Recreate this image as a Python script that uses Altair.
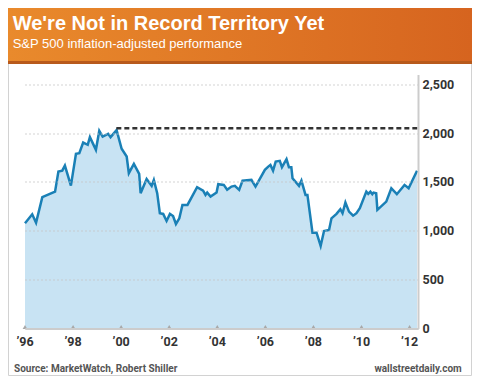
import altair as alt
import pandas as pd

# ---- data ----
years = [1996.00, 1996.30, 1996.46, 1996.72, 1997.25, 1997.39, 1997.55, 1997.66, 1997.91,
         1998.12, 1998.26, 1998.42, 1998.61, 1998.70, 1998.95, 1999.09, 1999.23, 1999.46,
         1999.56, 1999.81, 2000.02, 2000.23, 2000.32, 2000.53, 2000.75, 2000.81, 2001.06,
         2001.27, 2001.36, 2001.50, 2001.61, 2001.75, 2001.89, 2002.03, 2002.16, 2002.28,
         2002.42, 2002.55, 2002.76, 2003.16, 2003.41, 2003.51, 2003.58, 2003.72, 2003.97,
         2004.04, 2004.27, 2004.41, 2004.59, 2004.73, 2004.91, 2005.05, 2005.42, 2005.59,
         2005.98, 2006.12, 2006.21, 2006.32, 2006.43, 2006.60, 2006.69, 2006.88, 2006.98,
         2007.08, 2007.13, 2007.40, 2007.50, 2007.67, 2007.75, 2007.96, 2008.13, 2008.30,
         2008.44, 2008.65, 2008.75, 2008.96, 2009.12, 2009.21, 2009.33, 2009.48, 2009.65,
         2009.79, 2009.93, 2010.20, 2010.28, 2010.37, 2010.45, 2010.50, 2010.61, 2010.66,
         2011.03, 2011.24, 2011.47, 2011.79, 2011.96, 2012.31]
values = [1077, 1169, 1083, 1344, 1401, 1606, 1616, 1668, 1463,
          1788, 1795, 1903, 1880, 1959, 1829, 2023, 1965, 1993,
          1959, 2030, 1840, 1760, 1590, 1685, 1583, 1385, 1531,
          1460, 1521, 1385, 1180, 1173, 1101, 1173, 1152, 1070,
          1128, 1265, 1265, 1446, 1411, 1367, 1391, 1350, 1391,
          1477, 1470, 1420, 1453, 1460, 1419, 1514, 1521, 1453,
          1624, 1657, 1675, 1616, 1709, 1716, 1651, 1733, 1651,
          1651, 1538, 1460, 1514, 1367, 1367, 981, 981, 845,
          998, 1009, 1128, 1173, 1221, 1180, 1289, 1196, 1155,
          1180, 1231, 1401, 1378, 1401, 1375, 1391, 1385, 1214,
          1299, 1436, 1375, 1470, 1436, 1615]

tick_years = [1996, 1998, 2000, 2002, 2004, 2006, 2008, 2010, 2012]
tick_labels = ["\u201996", "\u201998", "\u201900", "\u201902", "\u201904",
               "\u201906", "\u201908", "\u201910", "\u201912"]
y_ticks = [0, 500, 1000, 1500, 2000, 2500]

record_value = 2050
record_start = 1999.8
record_end = 2012.35

title_text = "We're Not in Record Territory Yet"
subtitle_text = "S&P 500 inflation-adjusted performance"
source_text = "Source: MarketWatch, Robert Shiller"
brand_text = "wallstreetdaily.com"

# ---- tables ----
df = pd.DataFrame({"year": years, "value": values})
ticks_df = pd.DataFrame({"year": tick_years, "value": [0] * len(tick_years), "label": tick_labels})
rec_df = pd.DataFrame({"year": [record_start], "end": [record_end], "value": [record_value]})
one = pd.DataFrame({"k": [0]})

W, H = 393, 254
LBL = "Roboto, Liberation Sans, sans-serif"
SANS = "Liberation Sans, Arial, Helvetica, sans-serif"

x_scale = alt.Scale(domain=[1996, 2012.35], nice=False, zero=False)
y_scale = alt.Scale(domain=[0, 2600], nice=False)

x_axis = alt.Axis(values=tick_years, grid=False, ticks=False, labels=False,
                  domainColor="#cccccc", domainWidth=2, zindex=1)
y_axis = alt.Axis(orient="right", values=y_ticks, format=",.0f",
                  grid=True, gridDash=[1, 3], gridColor="#c4c4c4", gridWidth=1.5,
                  ticks=False, domainColor="#cccccc", domainWidth=2,
                  labelFont=LBL, labelFontWeight="bold", labelFontSize=12.5,
                  labelColor="#333333", labelPadding=4, zindex=1)

X = alt.X("year:Q", scale=x_scale, title=None, axis=x_axis)
Y = alt.Y("value:Q", scale=y_scale, title=None, axis=y_axis)

# ---- decoration ----
panel = alt.Chart(one).mark_rect(fill="transparent", stroke="#d2d2d2", strokeWidth=1).encode(
    x=alt.value(-16.5), x2=alt.value(446.5), y=alt.value(-11), y2=alt.value(301)
)
header = alt.Chart(one).mark_rect(
    color=alt.Gradient(
        gradient="linear",
        stops=[alt.GradientStop(color="#e98a2c", offset=0),
               alt.GradientStop(color="#d6641f", offset=1)],
        x1=0, x2=1, y1=0, y2=0,
    )
).encode(x=alt.value(-17), x2=alt.value(447), y=alt.value(-66.5), y2=alt.value(-13))
header_edge = alt.Chart(one).mark_rect(color="#b85a1c").encode(
    x=alt.value(-17), x2=alt.value(447), y=alt.value(-13.5), y2=alt.value(-10.5)
)
title = alt.Chart(one).mark_text(
    text=title_text, font=SANS, fontWeight="bold", fontSize=20, color="white",
    align="left", baseline="alphabetic"
).encode(x=alt.value(-12.3), y=alt.value(-44.5))
subtitle = alt.Chart(one).mark_text(
    text=subtitle_text, font=SANS, fontSize=13, color="white",
    align="left", baseline="alphabetic"
).encode(x=alt.value(-12.3), y=alt.value(-27))
source = alt.Chart(one).mark_text(
    text=source_text, font=LBL, fontWeight="bold", fontSize=10, color="#555555",
    align="left", baseline="alphabetic"
).encode(x=alt.value(-11), y=alt.value(297.5))
brand = alt.Chart(one).mark_text(
    text=brand_text, font=LBL, fontWeight="bold", fontSize=10, color="#555555",
    align="right", baseline="alphabetic"
).encode(x=alt.value(436.7), y=alt.value(297.5))

# ---- data marks ----
area = alt.Chart(df).mark_area(color="#c8e3f3").encode(x=X, y=Y)
line = alt.Chart(df).mark_line(color="#1a80b6", strokeWidth=2.5, strokeJoin="miter").encode(x=X, y=Y)
record = alt.Chart(rec_df).mark_rule(color="#333333", strokeWidth=2.6, strokeDash=[5, 3]).encode(
    x=X, x2="end:Q", y=Y
)
tick_marks = alt.Chart(ticks_df).mark_point(
    shape="triangle-up", filled=True, size=22, color="#a8a8a8", opacity=1, yOffset=-1.5
).encode(x=X, y=Y)
x_labels = alt.Chart(ticks_df).mark_text(
    font=LBL, fontWeight="bold", fontSize=12.5, color="#333333",
    align="center", baseline="alphabetic"
).encode(x=X, y=alt.value(H + 17), text="label:N")

chart = alt.layer(
    panel, header, header_edge, area, line, record, tick_marks, x_labels,
    title, subtitle, source, brand
).properties(
    width=W, height=H,
    autosize=alt.AutoSizeParams(type="none"),
    padding={"left": 17, "top": 66.5, "right": 54, "bottom": 47.5},
    background="white",
).configure_view(stroke=None)

chart.save("out.html", embed_options={"renderer": "svg", "actions": False})
